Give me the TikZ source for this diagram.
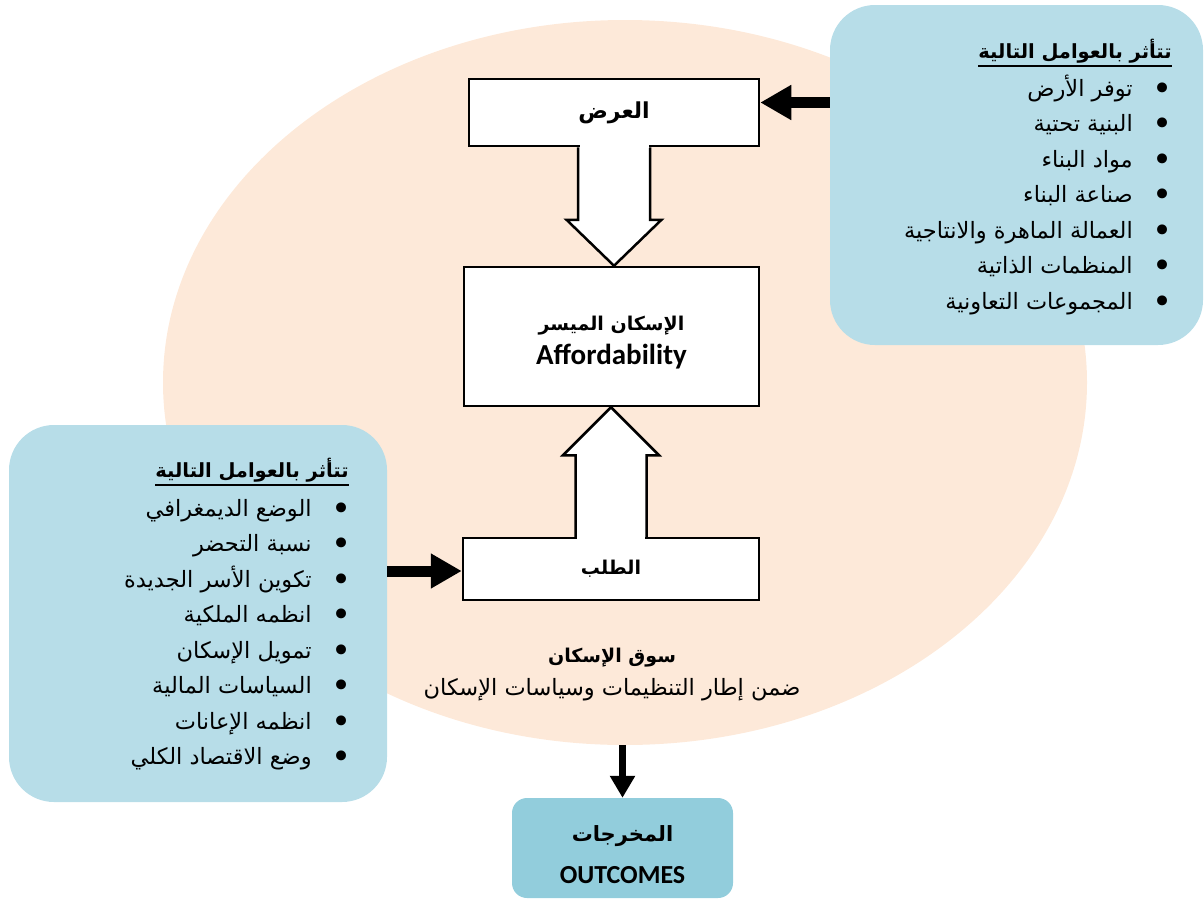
\documentclass[tikz,border=0pt]{standalone}
\usepackage{fontspec}
\newfontfamily\arabicfont[Script=Arabic]{DejaVu Sans}
\newfontfamily\calibrifont{Carlito}
\TeXXeTstate=1
\usepackage{xcolor}
\definecolor{marketPeach}{HTML}{FDE9D9}
\definecolor{factorBlue}{HTML}{B7DDE8}
\definecolor{outcomeBlue}{HTML}{92CDDC}
\usepackage{tikz}
\usetikzlibrary{
    shapes.geometric,
    arrows.meta,
    positioning,
    calc
}
\newcommand{\artext}[1]{\beginR #1\endR}
\newcommand{\bulitem}[1]{\beginR\raisebox{-4pt}{\fontsize{34}{34}\selectfont\textbullet}\hspace*{20pt}#1\endR}
\tikzset{
    % Market region - soft peach ellipse
    market/.style={
        ellipse,
        fill=marketPeach,
        minimum width=924pt,
        minimum height=725pt,
        inner sep=0pt,
    },
    % Factor panels - light blue, big round corners
    factor box/.style={
        rectangle,
        rounded corners=45pt,
        fill=factorBlue,
        inner sep=0pt,
    },
    factor title/.style={
        font=\arabicfont\bfseries\fontsize{19.5}{23}\selectfont,
        inner sep=0pt,
        anchor=base east,
    },
    factor item/.style={
        font=\arabicfont\fontsize{22.5}{26}\selectfont,
        inner sep=0pt,
        anchor=base east,
    },
    % Flow boxes - white with black frame
    flow box/.style={
        rectangle,
        draw=black,
        line width=2.5pt,
        fill=white,
        align=center,
        font=\arabicfont\bfseries\fontsize{19}{33}\selectfont,
    },
    % Outcome box - darker blue
    outcome/.style={
        rectangle,
        rounded corners=15pt,
        fill=outcomeBlue,
        align=center,
        minimum width=221pt,
        minimum height=100pt,
        font=\fontsize{21}{40}\selectfont,
    },
    % Hollow block arrows between the flow boxes
    block arrow/.style={
        draw=black,
        fill=white,
        line width=2.5pt,
        line join=miter,
    },
    % Solid arrows from the factor panels
    bar arrow/.style={
        -{Triangle[length=31pt, width=33pt]},
        line width=11pt,
        draw=black,
    },
    thin bar arrow/.style={
        -{Triangle[length=22pt, width=24pt]},
        line width=7.5pt,
        draw=black,
    },
    underline/.style={
        line width=2.5pt,
        draw=black,
    },
}

\begin{document}
\begin{tikzpicture}[x=1pt, y=-1pt]
    \useasboundingbox (0,0) rectangle (1204,900);

    \node (mkt) [market] at (625,382.5) {};

    % factor panels
    \node (factR) [factor box, minimum width=373pt, minimum height=340pt] at (1016.5,175) {};
    \node (ttlR) [factor title] at (1172,58) {\artext{تتأثر بالعوامل التالية}};
    \draw [underline] ($(ttlR.base west)+(0,8)$) -- ($(ttlR.base east)+(0,8)$);
    \node (r1) [factor item] at (1173,96) {\bulitem{توفر الأرض}};
    \node (r2) [factor item] at (1173,131.5) {\bulitem{البنية تحتية}};
    \node (r3) [factor item] at (1173,167) {\bulitem{مواد البناء}};
    \node (r4) [factor item] at (1173,202.5) {\bulitem{صناعة البناء}};
    \node (r5) [factor item] at (1173,238) {\bulitem{العمالة الماهرة والانتاجية}};
    \node (r6) [factor item] at (1173,273.5) {\bulitem{المنظمات الذاتية}};
    \node (r7) [factor item] at (1173,309) {\bulitem{المجموعات التعاونية}};

    \node (factL) [factor box, minimum width=378pt, minimum height=377pt] at (198,613.5) {};
    \node (ttlL) [factor title] at (349,477) {\artext{تتأثر بالعوامل التالية}};
    \draw [underline] ($(ttlL.base west)+(0,8)$) -- ($(ttlL.base east)+(0,8)$);
    \node (l1) [factor item] at (352,516) {\bulitem{الوضع الديمغرافي}};
    \node (l2) [factor item] at (352,551.5) {\bulitem{نسبة التحضر}};
    \node (l3) [factor item] at (352,587) {\bulitem{تكوين الأسر الجديدة}};
    \node (l4) [factor item] at (352,622.5) {\bulitem{انظمه الملكية}};
    \node (l5) [factor item] at (352,658) {\bulitem{تمويل الإسكان}};
    \node (l6) [factor item] at (352,693.5) {\bulitem{السياسات المالية}};
    \node (l7) [factor item] at (352,729) {\bulitem{انظمه الإعانات}};
    \node (l8) [factor item] at (352,764.5) {\bulitem{وضع الاقتصاد الكلي}};

    % flow boxes
    \node (sup) [flow box, minimum width=290pt, minimum height=67pt, font=\arabicfont\bfseries\fontsize{22}{26}\selectfont] at (614,112.5) {\artext{العرض}};
    \node (aff) [flow box, minimum width=295pt, minimum height=139pt] at (611.5,336.5)
        {\rule{0pt}{26pt}\artext{الإسكان الميسر}\\[1pt]{\calibrifont\fontsize{29}{33}\selectfont Affordability}};
    \node (dem) [flow box, minimum width=296pt, minimum height=62pt] at (611,569) {\artext{الطلب}};

    \node (mktlbl) [align=center, font=\arabicfont\fontsize{22.5}{32}\selectfont] at (612,675)
        {{\bfseries\fontsize{19}{32}\selectfont\artext{سوق الإسكان}}\\[1pt]\artext{ضمن إطار التنظيمات وسياسات الإسكان}};

    \node (out) [outcome] at (622.5,848)
        {\rule{0pt}{30pt}{\arabicfont\bfseries\artext{المخرجات}}\\[2pt]{\calibrifont\bfseries\fontsize{26}{33}\selectfont OUTCOMES}};

    % block arrows
    \draw [block arrow] ($(sup.south)+(-36,0)$) -- ($(sup.south |- aff.north)+(-36,-46)$) -- ++(-11.5,0)
        -- (sup.south |- aff.north) -- ($(sup.south |- aff.north)+(47.5,-46)$) -- ++(-11.5,0)
        -- ($(sup.south)+(36,0)$);
    \fill [white] ($(sup.south)+(-34.5,-3.5)$) rectangle ($(sup.south)+(34.5,1)$);
    \draw [block arrow] ($(dem.north)+(-35.5,0)$) -- ($(dem.north |- aff.south)+(-35.5,48)$) -- ++(-12.5,0)
        -- (dem.north |- aff.south) -- ($(dem.north |- aff.south)+(48,48)$) -- ++(-12.5,0)
        -- ($(dem.north)+(35.5,0)$);
    \fill [white] ($(dem.north)+(-34,-1)$) rectangle ($(dem.north)+(34,3.5)$);

    % connectors
    \coordinate (supIn) at ($(sup.east)+(0,-10)$);
    \coordinate (demIn) at ($(dem.west)+(0,2)$);
    \draw [bar arrow] (factR.west |- supIn) -- (supIn);
    \draw [bar arrow] (factL.east |- demIn) -- (demIn);
    \draw [thin bar arrow] (out.north |- mkt.south) -- (out.north);
\end{tikzpicture}
\end{document}
